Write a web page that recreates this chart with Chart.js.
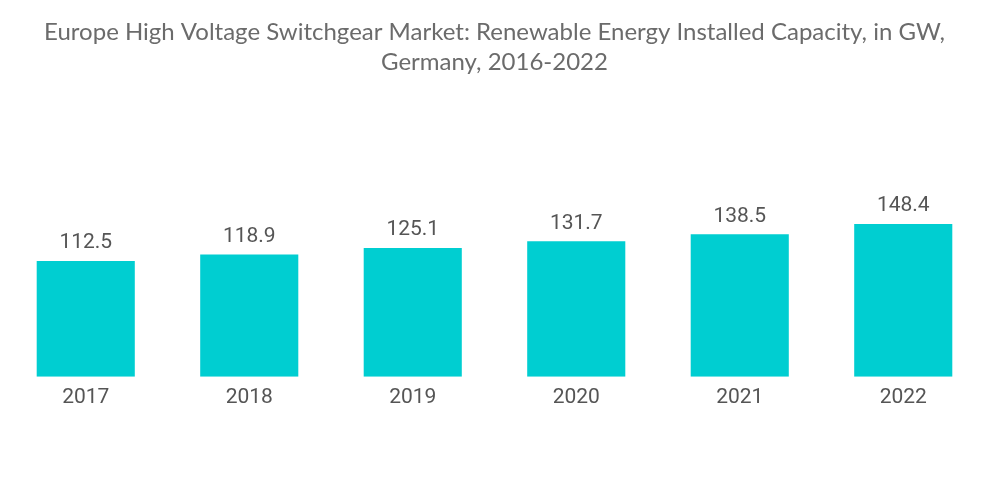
<!DOCTYPE html>
<html>
<head>
<meta charset="utf-8">
<script src="https://cdn.jsdelivr.net/npm/chart.js@4/dist/chart.umd.min.js"></script>
<style>
  html, body { margin: 0; padding: 0; background: #fff; }
  #wrap { width: 1000px; height: 504px; }
</style>
</head>
<body>
<div id="wrap"><canvas id="chart"></canvas></div>
<script>
// Chart data
const years = ['2017', '2018', '2019', '2020', '2021', '2022'];
const capacity = [112.5, 118.9, 125.1, 131.7, 138.5, 148.4];
const titleLines = [
    'Europe High Voltage Switchgear Market: Renewable Energy Installed Capacity, in GW,',
    'Germany, 2016-2022'
];

// Draws the value above each bar (no datalabels plugin available)
const valueLabels = {
    id: 'valueLabels',
    afterDatasetsDraw(chart) {
        const ctx = chart.ctx;
        const meta = chart.getDatasetMeta(0);
        ctx.save();
        ctx.font = '21px Roboto';
        ctx.fillStyle = '#555555';
        ctx.textAlign = 'center';
        ctx.textBaseline = 'middle';
        meta.data.forEach(function(bar, i) {
            ctx.fillText(capacity[i].toFixed(1), bar.x, bar.y - 18);
        });
        ctx.restore();
    }
};

new Chart(document.getElementById('chart'), {
    type: 'bar',
    data: {
        labels: years,
        datasets: [{
            label: 'Installed Capacity (GW)',
            data: capacity,
            backgroundColor: '#00CED1',
            borderWidth: 0,
            categoryPercentage: 0.6,
            barPercentage: 1.0
        }]
    },
    options: {
        responsive: true,
        maintainAspectRatio: false,
        animation: false,
        layout: {
            padding: { left: 4, right: 15, top: 0, bottom: 86 }
        },
        plugins: {
            legend: { display: false },
            tooltip: { enabled: false },
            title: {
                display: true,
                text: titleLines,
                color: '#6b6b6b',
                font: { family: 'Lato', size: 24, weight: 'normal', lineHeight: 1.25 },
                padding: { top: 17, bottom: 94 }
            }
        },
        scales: {
            x: {
                grid: { display: false, drawTicks: false },
                border: { display: false },
                ticks: {
                    color: '#555555',
                    font: { family: 'Roboto', size: 21 },
                    padding: 8
                }
            },
            y: {
                display: false,
                min: 0,
                max: 200
            }
        }
    },
    plugins: [valueLabels]
});
</script>
</body>
</html>
